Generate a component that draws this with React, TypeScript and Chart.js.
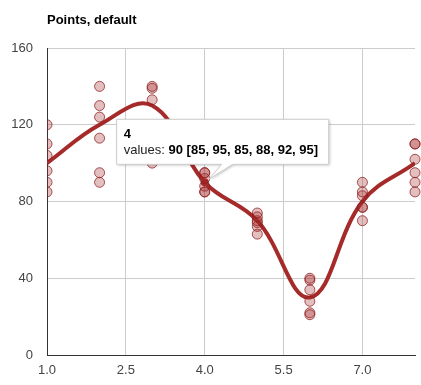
import React, { useEffect, useRef } from "react";
import { Chart, registerables } from "chart.js";

Chart.register(...registerables);

const title = "Points, default";
const xValues = [1, 2, 3, 4, 5, 6, 7, 8];
const values = [100, 120, 130, 90, 70, 30, 80, 100];
const interval1 = [90, 95, 105, 85, 74, 39, 77, 90];
const interval2 = [110, 130, 140, 95, 63, 22, 83, 110];
const interval3 = [85, 90, 100, 85, 67, 21, 70, 85];
const interval4 = [96, 113, 117, 88, 69, 28, 77, 95];
const interval5 = [104, 124, 133, 92, 70, 34, 85, 102];
const interval6 = [120, 140, 139, 95, 72, 40, 90, 110];
const intervals = [interval1, interval2, interval3, interval4, interval5, interval6];
const xTicks = [1, 2.5, 4, 5.5, 7];
const yTicks = [0, 40, 80, 120, 160];
const focusIndex = 3;

const FONT = "'Liberation Sans', Arial, sans-serif";
const BROWN = "#a52a2a";

const overlayPlugin = {
  id: "overlay",
  afterDraw(chart: any) {
    const ctx = chart.ctx as CanvasRenderingContext2D;
    const area = chart.chartArea;
    ctx.save();
    // title
    ctx.font = `bold 13px ${FONT}`;
    ctx.fillStyle = "#000";
    ctx.textBaseline = "alphabetic";
    ctx.textAlign = "left";
    ctx.fillText(title, area.left, 24);

    // tooltip
    const xs = chart.scales.x;
    const ys = chart.scales.y;
    const px = xs.getPixelForValue(xValues[focusIndex]);
    const py = ys.getPixelForValue(values[focusIndex]);
    const bx = px - 88;
    const by = py - 63;
    const bw = 212;
    const bh = 45;
    ctx.beginPath();
    ctx.moveTo(bx, by);
    ctx.lineTo(bx + bw, by);
    ctx.lineTo(bx + bw, by + bh);
    ctx.lineTo(px + 28, by + bh);
    ctx.lineTo(px + 4, py - 3);
    ctx.lineTo(px + 17, by + bh);
    ctx.lineTo(bx, by + bh);
    ctx.closePath();
    ctx.shadowColor = "rgba(0,0,0,0.25)";
    ctx.shadowBlur = 3;
    ctx.shadowOffsetX = 1;
    ctx.shadowOffsetY = 1;
    ctx.fillStyle = "#fff";
    ctx.fill();
    ctx.shadowColor = "transparent";
    ctx.lineWidth = 1;
    ctx.strokeStyle = "#ccc";
    ctx.stroke();

    ctx.font = `bold 13px ${FONT}`;
    ctx.fillStyle = "#000";
    ctx.fillText(String(xValues[focusIndex]), bx + 7, by + 19);
    ctx.font = `13px ${FONT}`;
    ctx.fillStyle = "#222";
    const lbl = "values: ";
    ctx.fillText(lbl, bx + 7, by + 35);
    const w = ctx.measureText(lbl).width;
    ctx.font = `bold 13px ${FONT}`;
    ctx.fillStyle = "#000";
    const vals = intervals.map((a) => a[focusIndex]).join(", ");
    ctx.fillText(`${values[focusIndex]} [${vals}]`, bx + 7 + w, by + 35);
    ctx.restore();
  },
};

export default function App() {
  const ref = useRef<HTMLCanvasElement | null>(null);
  useEffect(() => {
    if (!ref.current) return;
    const pointData: { x: number; y: number }[] = [];
    xValues.forEach((x, i) => {
      intervals.forEach((arr) => pointData.push({ x, y: arr[i] }));
    });
    const lineData = xValues.map((x, i) => ({ x, y: values[i] }));
    const chart = new Chart(ref.current, {
      type: "line",
      data: {
        datasets: [
          {
            type: "scatter",
            data: pointData,
            order: 0,
            pointRadius: 5,
            pointBorderWidth: 1,
            pointBackgroundColor: "rgba(165,42,42,0.3)",
            pointBorderColor: "rgba(140,30,30,0.75)",
            showLine: false,
            clip: { left: 0, right: false, top: false, bottom: false } as any,
          } as any,
          {
            type: "line",
            data: lineData,
            order: 1,
            borderColor: BROWN,
            borderWidth: 4,
            tension: 0.4,
            fill: false,
            pointRadius: (c: any) => (c.dataIndex === focusIndex ? 4 : 0),
            pointBackgroundColor: BROWN,
            pointBorderColor: BROWN,
            pointBorderWidth: 0,
          } as any,
        ],
      },
      options: {
        animation: false,
        responsive: false,
        events: [],
        layout: { padding: { top: 48, right: 5, left: 0, bottom: 0 } },
        plugins: {
          legend: { display: false },
          tooltip: { enabled: false },
          title: { display: false },
        },
        scales: {
          x: {
            type: "linear",
            min: 1,
            max: 8,
            afterBuildTicks: (s: any) => {
              s.ticks = xTicks.map((v) => ({ value: v }));
            },
            afterFit: (s: any) => {
              s.height = 30;
            },
            ticks: {
              callback: (v: any) => Number(v).toFixed(1),
              font: { family: FONT, size: 13 },
              color: "#444",
              padding: 8,
              maxRotation: 0,
            },
            grid: { color: "#ccc", drawTicks: false },
            border: { color: "#333", width: 1 },
          },
          y: {
            type: "linear",
            min: 0,
            max: 160,
            afterBuildTicks: (s: any) => {
              s.ticks = yTicks.map((v) => ({ value: v }));
            },
            afterFit: (s: any) => {
              s.width = 47;
            },
            ticks: {
              callback: (v: any) => String(v),
              font: { family: FONT, size: 13 },
              color: "#444",
              padding: 14,
            },
            grid: { color: "#ccc", drawTicks: false },
            border: { color: "#333", width: 1 },
          },
        },
      },
      plugins: [overlayPlugin],
    });
    return () => chart.destroy();
  }, []);
  return (
    <div style={{ position: "absolute", left: 0, top: 0, width: 421, height: 385, background: "#fff" }}>
      <canvas ref={ref} width={421} height={385} style={{ display: "block" }} />
    </div>
  );
}
